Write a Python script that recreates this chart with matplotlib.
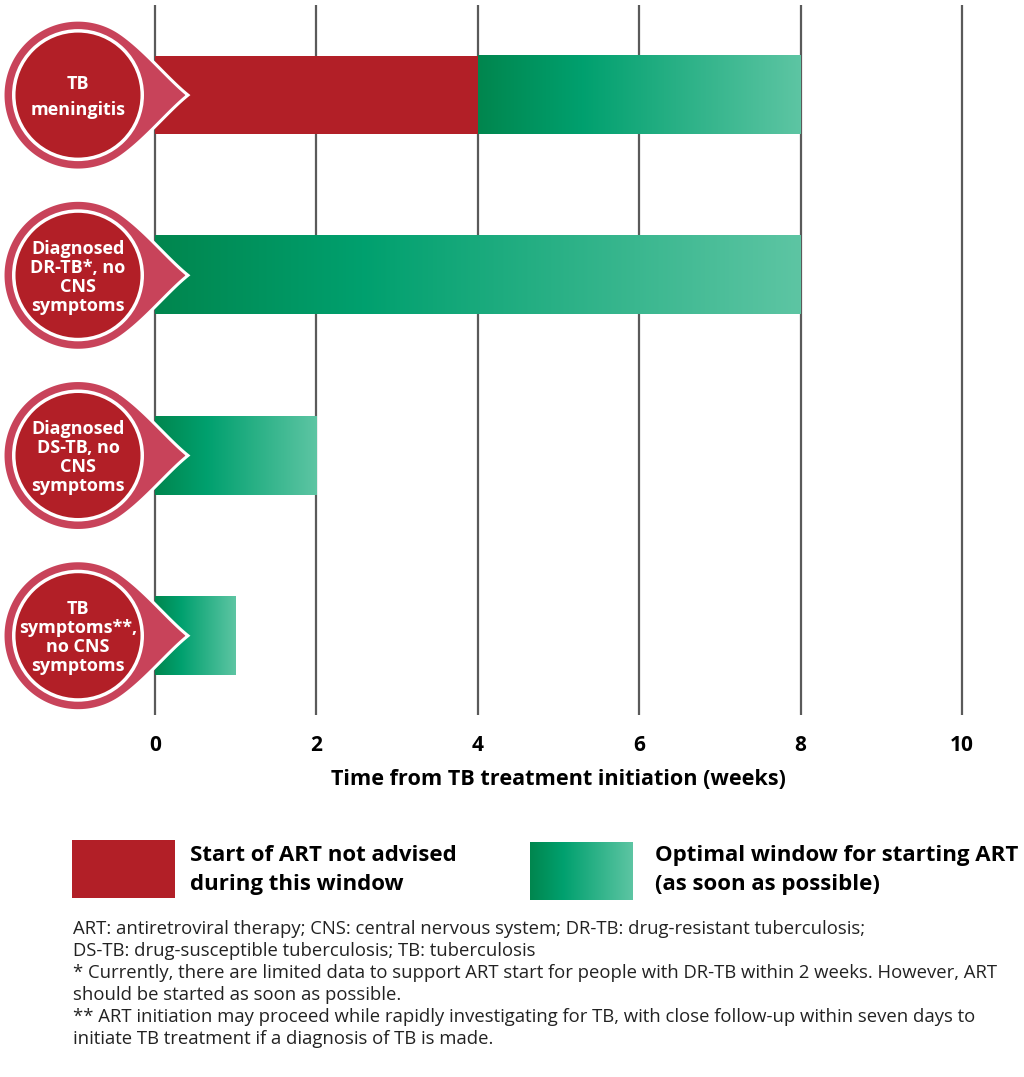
import numpy as np
import matplotlib
matplotlib.use("Agg")
import matplotlib.pyplot as plt
from matplotlib.colors import LinearSegmentedColormap
from matplotlib.patches import Rectangle, Circle, PathPatch
from matplotlib.path import Path

plt.rcParams["font.family"] = ["Open Sans", "DejaVu Sans"]

# data
categories = [
    "TB\nmeningitis",
    "Diagnosed\nDR-TB*, no\nCNS\nsymptoms",
    "Diagnosed\nDS-TB, no\nCNS\nsymptoms",
    "TB\nsymptoms**,\nno CNS\nsymptoms",
]
not_advised_end = [4, 0, 0, 0]
optimal_end = [8, 8, 2, 1]
xticks = [0, 2, 4, 6, 8, 10]
xlabel = "Time from TB treatment initiation (weeks)"
legend_labels = ["Start of ART not advised\nduring this window",
                 "Optimal window for starting ART\n(as soon as possible)"]
footnotes = [
    "ART: antiretroviral therapy; CNS: central nervous system; DR-TB: drug-resistant tuberculosis;",
    "DS-TB: drug-susceptible tuberculosis; TB: tuberculosis",
    "* Currently, there are limited data to support ART start for people with DR-TB within 2 weeks. However, ART",
    "should be started as soon as possible.",
    "** ART initiation may proceed while rapidly investigating for TB, with close follow-up within seven days to",
    "initiate TB treatment if a diagnosis of TB is made.",
]

RED = "#b21f27"
BADGE_OUTER = "#c8435a"
GRID = "#5a5a5a"
green_cmap = LinearSegmentedColormap.from_list(
    "greens", [(0, "#00864e"), (0.32, "#00a06e"), (1, "#5dc5a3")])
grad = np.linspace(0, 1, 256).reshape(1, -1)

W, H = 1024, 1077
fig = plt.figure(figsize=(W / 100, H / 100), dpi=100)
ax = fig.add_axes([155 / W, (H - 715) / H, 807 / W, 710 / H])
ax.axis("off")

bar_h = 0.435
ylim = (3.44, -0.50)
ax.vlines(xticks, ylim[1], ylim[0], color=GRID, lw=1.6, zorder=1, clip_on=False)

for i, (red_end, green_end) in enumerate(zip(not_advised_end, optimal_end)):
    if red_end > 0:
        ax.barh(i, red_end, left=0, height=bar_h, color=RED, zorder=2)
    ax.imshow(grad, cmap=green_cmap, aspect="auto", zorder=2,
              extent=[red_end, green_end, i + bar_h / 2, i - bar_h / 2])

ax.set_xlim(0, 10)
ax.set_ylim(*ylim)

# tick labels and axis label
for t in xticks:
    ax.text(t, ylim[0] + 0.11, str(t), ha="center", va="top", fontsize=15,
            fontweight="bold", clip_on=False)
ax.text(5, ylim[0] + 0.30, xlabel, ha="center", va="top", fontsize=15.6,
        fontweight="bold", clip_on=False)

# overlay axes in pixel coordinates for badges, legend, notes
ov = fig.add_axes([0, 0, 1, 1], zorder=5)
ov.set_xlim(0, W)
ov.set_ylim(H, 0)
ov.axis("off")


def badge(cx, cy, label):
    R, tip = 75, 110
    a0 = np.deg2rad(55)
    angs = np.linspace(a0, 2 * np.pi - a0, 120)
    arc = np.column_stack([cx + R * np.cos(angs), cy - R * np.sin(angs)])
    # lower side: from arc end, curving in to the tip
    p0 = arc[-1]
    tan_low = np.array([np.sin(a0), -np.cos(a0)])
    t = np.linspace(0, 1, 40)[:, None]
    tipp = np.array([cx + tip, cy])
    p1 = p0 + 30 * tan_low
    p2 = np.array([cx + 90, cy + 16])
    low = ((1 - t) ** 3 * p0 + 3 * (1 - t) ** 2 * t * p1
           + 3 * (1 - t) * t ** 2 * p2 + t ** 3 * tipp)
    up = low[::-1].copy()
    up[:, 1] = 2 * cy - up[:, 1]
    pts = np.vstack([arc, low, up])
    path = Path(np.vstack([pts, pts[:1]]), closed=True)
    ov.add_patch(PathPatch(path, facecolor=BADGE_OUTER, edgecolor="white",
                           lw=2.2, zorder=3))
    ov.add_patch(Circle((cx, cy), 66, facecolor="white", zorder=4))
    ov.add_patch(Circle((cx, cy), 62.5, facecolor=RED, zorder=5))
    nlines = label.count("\n") + 1
    ov.text(cx, cy + 2, label, ha="center", va="center", color="white",
            fontsize=13, fontweight="bold", zorder=6,
            linespacing=1.6 if nlines == 2 else 1.08)


for i, lab in enumerate(categories):
    disp = ax.transData.transform((0, i))
    _, cy = ov.transData.inverted().transform(disp)
    badge(78, cy, lab)

# legend
ov.add_patch(Rectangle((72, 840), 103, 58, facecolor=RED))
ov.imshow(grad, cmap=green_cmap, aspect="auto", extent=[530, 633, 900, 842])
ov.set_xlim(0, W)
ov.set_ylim(H, 0)
ov.text(190, 870, legend_labels[0], ha="left", va="center", fontsize=16,
        fontweight="bold", linespacing=1.55)
ov.text(655, 870, legend_labels[1], ha="left", va="center", fontsize=16,
        fontweight="bold", linespacing=1.55)

ov.text(73, 920, "\n".join(footnotes), ha="left", va="top", fontsize=13.3,
        color="#222222", linespacing=1.28)

fig.savefig("out.png", dpi=100)
